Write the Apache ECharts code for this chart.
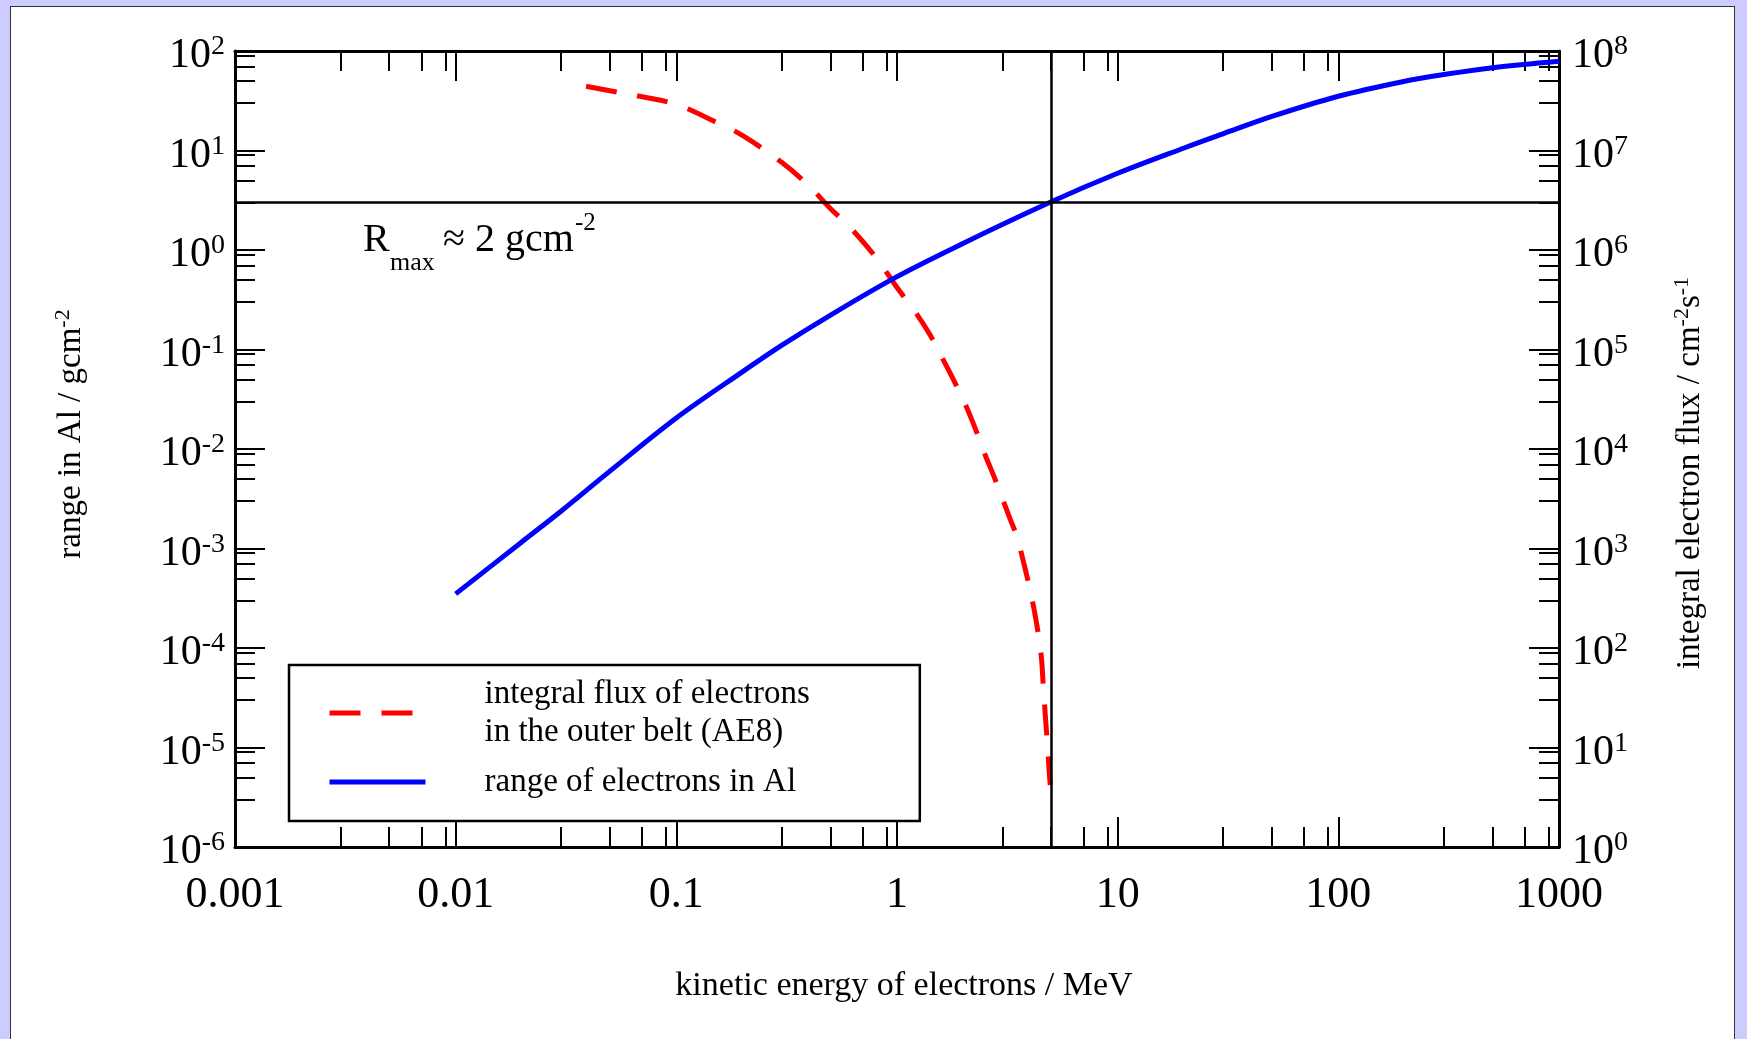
<!DOCTYPE html>
<html><head><meta charset="utf-8">
<script src="https://cdn.jsdelivr.net/npm/echarts@6/dist/echarts.min.js"></script>
<style>
html,body{margin:0;padding:0;background:#CCCCFF;width:1747px;height:1039px;overflow:hidden;}
#frame{position:absolute;left:10px;top:6px;width:1725px;height:1045px;background:#fff;border:1px solid #333;box-sizing:border-box;}
#chart{position:absolute;left:0;top:0;width:1747px;height:1039px;}
</style></head><body><div id="frame"></div><div id="chart"></div>
<script>
// ---- data ----
const energyRange = [0.01, 0.02, 0.03, 0.05, 0.1, 0.2, 0.3, 0.5, 1, 2, 5, 10, 20, 30, 50, 100, 200, 300, 500, 1000];
const rangeAl = [3.5e-4, 1.17e-3, 2.37e-3, 6.0e-3, 0.0205, 0.060, 0.110, 0.222, 0.54, 1.17, 3.05, 5.9, 10.6, 14.7, 22, 35.1, 49.7, 58, 68, 79];

const energyFlux = [0.039, 0.05, 0.07, 0.1, 0.15, 0.2, 0.3, 0.4, 0.5, 0.6, 0.8, 1.0, 1.2, 1.4, 1.6, 1.8, 2.0, 2.25, 2.5, 2.75, 3.0, 3.25, 3.5, 3.75, 4.0, 4.25, 4.5, 4.6, 4.7, 4.8, 4.9, 4.95];
const fluxAE8 = [4.43e7, 3.98e7, 3.47e7, 2.9e7, 1.95e7, 1.41e7, 7.6e6, 4.4e6, 2.6e6, 1.78e6, 8.5e5, 4.2e5, 2.45e5, 1.45e5, 8.3e4, 5.0e4, 3.1e4, 1.66e4, 8.9e3, 5.3e3, 3.2e3, 2.0e3, 1.3e3, 7.2e2, 3.9e2, 2.0e2, 85, 42, 21, 11, 5.5, 4.2];

const xTickLabels = ['0.001', '0.01', '0.1', '1', '10', '100', '1000'];
const minorMultipliers = [3, 5, 7, 9];
const refRange = 3;    // horizontal reference line (left axis)
const refEnergy = 5;   // vertical reference line (MeV)

const fluxName = 'integral flux of electrons\nin the outer belt (AE8)';
const rangeName = 'range of electrons in Al';

function minorTicks(e0, e1) {
  const out = [];
  for (let e = e0; e < e1; e++) minorMultipliers.forEach(m => out.push(parseFloat((m * Math.pow(10, e)).toPrecision(6))));
  return out;
}
const FONT = 'Liberation Serif';
function powLabel(v) {
  const e = Math.round(Math.log10(v));
  return '{b|10}{s|' + (e < 0 ? '-' + (-e) : e) + '}';
}
const powRich = {
  b: { fontFamily: FONT, fontSize: 42, lineHeight: 46, color: '#000' },
  s: { fontFamily: FONT, fontSize: 28, lineHeight: 10, verticalAlign: 'top', color: '#000' }
};
const LINE = { show: true, onZero: false, lineStyle: { color: '#000', width: 3 } };
const NOLINE = { show: false };
const majorTick = { show: true, inside: true, length: 30, lineStyle: { color: '#000', width: 2 } };
function minorTick(vals) { return { show: true, inside: true, length: 20, customValues: vals, lineStyle: { color: '#000', width: 2 } }; }

function xAx(pos, major, labels) {
  return {
    type: 'log', logBase: 10, min: 0.001, max: 1000, splitNumber: 6, position: pos,
    axisLine: major ? LINE : NOLINE,
    axisTick: major ? majorTick : minorTick(minorTicks(-3, 3)),
    axisLabel: labels ? {
      show: true, margin: 26, fontFamily: FONT, fontSize: 44, lineHeight: 44, color: '#000',
      formatter: v => xTickLabels[Math.round(Math.log10(v)) + 3]
    } : { show: false },
    splitLine: { show: false }, minorTick: { show: false }, minorSplitLine: { show: false }
  };
}
function yAx(pos, min, max, e0, e1, major) {
  return {
    type: 'log', logBase: 10, min: min, max: max, splitNumber: e1 - e0, position: pos,
    axisLine: major ? LINE : NOLINE,
    axisTick: major ? majorTick : minorTick(minorTicks(e0, e1)),
    axisLabel: major ? {
      show: true, margin: pos === 'left' ? 10 : 13, formatter: powLabel, rich: powRich,
      padding: [10, 0, 0, 0],
      align: pos === 'left' ? 'right' : 'left', verticalAlign: 'middle'
    } : { show: false },
    splitLine: { show: false }, minorTick: { show: false }, minorSplitLine: { show: false }
  };
}

const chart = echarts.init(document.getElementById('chart'), null, { renderer: 'canvas' });
const txt = (x, y, text, size, extra) => Object.assign({
  type: 'text', x: x, y: y, silent: true,
  style: Object.assign({ text: text, fontFamily: FONT, fontSize: size, fill: '#000', align: 'left', verticalAlign: 'middle' }, (extra && extra.style) || {})
}, extra ? { rotation: extra.rotation || 0 } : {});

chart.setOption({
  animation: false,
  backgroundColor: 'transparent',
  grid: { left: 235, top: 51, right: 188, bottom: 192, containLabel: false, outerBoundsMode: 'none' },
  xAxis: [xAx('bottom', true, true), xAx('bottom', false, false), xAx('top', true, false), xAx('top', false, false)],
  yAxis: [
    yAx('left', 1e-6, 1e2, -6, 2, true), yAx('left', 1e-6, 1e2, -6, 2, false),
    yAx('right', 1, 1e8, 0, 8, true), yAx('right', 1, 1e8, 0, 8, false)
  ],
  legend: {
    data: [fluxName, rangeName], orient: 'vertical', left: 289, top: 665,
    padding: [10, 110, 20, 38], itemGap: 12, itemWidth: 96, itemHeight: 10,
    borderColor: '#000', borderWidth: 2.5, backgroundColor: '#fff', selectedMode: false,
    itemStyle: { opacity: 0, borderWidth: 0 },
    lineStyle: { width: 5 },
    textStyle: { fontFamily: FONT, fontSize: 33, lineHeight: 38, color: '#000', padding: [0, 0, 0, 54] }
  },
  series: [
    {
      name: fluxName, type: 'line', xAxisIndex: 0, yAxisIndex: 2, symbol: 'none', smooth: 0.35,
      data: energyFlux.map((e, i) => [e, fluxAE8[i]]),
      lineStyle: { color: '#FF0000', width: 5, type: [31, 21] }, itemStyle: { color: '#FF0000' }, z: 3
    },
    {
      name: rangeName, type: 'line', xAxisIndex: 0, yAxisIndex: 0, symbol: 'none', smooth: 0.35,
      data: energyRange.map((e, i) => [e, rangeAl[i]]),
      lineStyle: { color: '#0000FF', width: 5 }, itemStyle: { color: '#0000FF' }, z: 4,
      markLine: {
        silent: true, symbol: ['none', 'none'], label: { show: false },
        lineStyle: { color: '#000', width: 2.5, type: 'solid' },
        data: [{ yAxis: refRange }, { xAxis: refEnergy }]
      }
    }
  ],
  graphic: [
    txt(904, 986, 'kinetic energy of electrons / MeV', 34, { style: { align: 'center' } }),
    txt(71, 434, '{m|range in Al / gcm}{s|-2}', 33, { rotation: Math.PI / 2, style: { align: 'center', rich: {
      m: { fontFamily: FONT, fontSize: 33, lineHeight: 38, fill: '#000' },
      s: { fontFamily: FONT, fontSize: 22, lineHeight: 12, verticalAlign: 'top', fill: '#000' } } } }),
    txt(1690, 473, '{m|integral electron flux / cm}{s|-2}{m|s}{s|-1}', 33, { rotation: Math.PI / 2, style: { align: 'center', rich: {
      m: { fontFamily: FONT, fontSize: 33, lineHeight: 38, fill: '#000' },
      s: { fontFamily: FONT, fontSize: 22, lineHeight: 12, verticalAlign: 'top', fill: '#000' } } } }),
    txt(363, 240, 'R', 40),
    txt(390, 263, 'max', 26),
    txt(443, 240, '\u2248 2 gcm', 40),
    txt(575, 223, '-2', 25)
  ]
});
</script></body></html>
